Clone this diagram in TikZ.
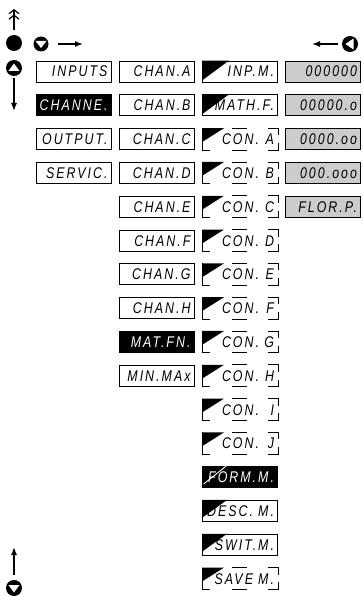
\documentclass[tikz,border=0pt]{standalone}
\usepackage{fontspec}
\setmainfont{Liberation Sans}
\newfontfamily\lcdfont{Liberation Sans}[FakeStretch=0.8,LetterSpace=13]
\usetikzlibrary{arrows.meta}
\tikzset{
  disp/.style={draw,line width=0.9pt,minimum height=21pt,text width=68pt,align=right,
    inner xsep=3.5pt,inner ysep=0pt,text height=11pt,text depth=0pt,
    font=\lcdfont\itshape\fontsize{15.5}{15.5}\selectfont},
  dispdark/.style={disp,fill=black,text=white},
  dispgrey/.style={disp,fill=black!20},
  dispseg/.style={disp,draw=none},
  bigarrow/.style={line width=1.3pt,-{Latex[length=8pt,width=6pt]}},
}
% black corner of a display
\newcommand\dispcorner[3]{\fill (#1.north west) -- ([xshift=#2]#1.north west) -- ([yshift=#3]#1.south west) -- cycle;}
% broken outline of a display
\newcommand\dispframe[1]{%
  \draw[line width=0.9pt] ([xshift=30pt]#1.north west) -- ([xshift=45pt]#1.north west)
    ([xshift=-10pt]#1.north east) -- (#1.north east) -- ([yshift=-7pt]#1.north east)
    ([yshift=7pt]#1.south west) -- (#1.south west) -- ([xshift=8pt]#1.south west)
    ([xshift=30pt]#1.south west) -- ([xshift=45pt]#1.south west)
    ([xshift=-10pt]#1.south east) -- (#1.south east) -- ([yshift=7pt]#1.south east);
  \draw[line width=0.9pt] (#1.north west) -- ([yshift=7pt]#1.south west);}
\begin{document}
\begin{tikzpicture}[x=1pt,y=-1pt]
\useasboundingbox (0,0) rectangle (362,596);
% keys
\draw[line width=1.2pt,-{Straight Barb[length=4pt,width=10pt]Straight Barb[length=4pt,width=10pt]}] (14,30) -- (14,9);
\fill (14,43) circle (8pt);
\fill (41,44) circle (7.5pt);
\fill[white] (35.5,41) -- (46.5,41) -- (41,48) -- cycle;
\draw[bigarrow] (58,44) -- (83,44);
\draw[bigarrow] (338,44) -- (312,44);
\fill (350,44) circle (8pt);
\fill[white] (353.5,38.5) -- (353.5,49.5) -- (345.5,44) -- cycle;
\fill (14,68) circle (8pt);
\fill[white] (8.5,71) -- (19.5,71) -- (14,63.5) -- cycle;
\draw[bigarrow] (14,78) -- (14,111);
\draw[bigarrow] (14,575) -- (14,547);
\fill (14,588) circle (8pt);
\fill[white] (8.5,585) -- (19.5,585) -- (14,592.5) -- cycle;
% main menu
\node[disp] (menu-0) at (73.5,71.5) {INPUTS};
\node[dispdark] (menu-1) at (73.5,105.3) {CHANNE.};
\node[disp] (menu-2) at (73.5,139.1) {OUTPUT.};
\node[disp] (menu-3) at (73.5,172.9) {SERVIC.};
% channels
\foreach \lab [count=\i from 0] in {CHAN.A,CHAN.B,CHAN.C,CHAN.D,CHAN.E,CHAN.F,CHAN.G,CHAN.H}
  \node[disp] (chan-\i) at (156.5,{71.5+33.8*\i}) {\lab};
\node[dispdark] (chan-8) at (156.5,{71.5+33.8*8}) {MAT.FN.};
\node[disp] (chan-9) at (156.5,{71.5+33.8*9}) {MIN.MAx};
% channel setup
\node[disp] (conf-0) at (240,71.5) {INP.M.};
\dispcorner{conf-0}{27pt}{2pt}
\node[disp] (conf-1) at (240,105.3) {MATH.F.};
\dispcorner{conf-1}{27pt}{2pt}
\foreach \lab [count=\i from 2] in {A,B,C,D,E,F,G,H,I,J}{
  \node[dispseg] (conf-\i) at (240,{71.5+33.8*\i}) {\hspace*{16pt}CON.\hfill\lab};
  \dispframe{conf-\i}
  \dispcorner{conf-\i}{22pt}{8pt}
}
\node[dispdark] (conf-12) at (240,{71.5+33.8*12}) {FORM.M.};
\draw[white,line width=0.9pt] ([xshift=24pt]conf-12.north west) -- ([xshift=1.5pt,yshift=4pt]conf-12.south west);
\node[disp] (conf-13) at (240,{71.5+33.8*13}) {DESC. M.};
\dispcorner{conf-13}{25pt}{4pt}
\node[disp] (conf-14) at (240,{71.5+33.8*14}) {SWIT.M.};
\dispcorner{conf-14}{25pt}{4pt}
\node[dispseg] (conf-15) at (240,{71.5+33.8*15}) {SAVE M.};
\dispframe{conf-15}
\dispcorner{conf-15}{22pt}{8pt}
% format
\node[dispgrey] (form-0) at (323,71.5) {000000};
\node[dispgrey] (form-1) at (323,105.3) {00000.o};
\node[dispgrey] (form-2) at (323,139.1) {0000.oo};
\node[dispgrey] (form-3) at (323,172.9) {000.ooo};
\node[dispgrey] (form-4) at (323,206.7) {FLOR.P.};
\end{tikzpicture}
\end{document}
